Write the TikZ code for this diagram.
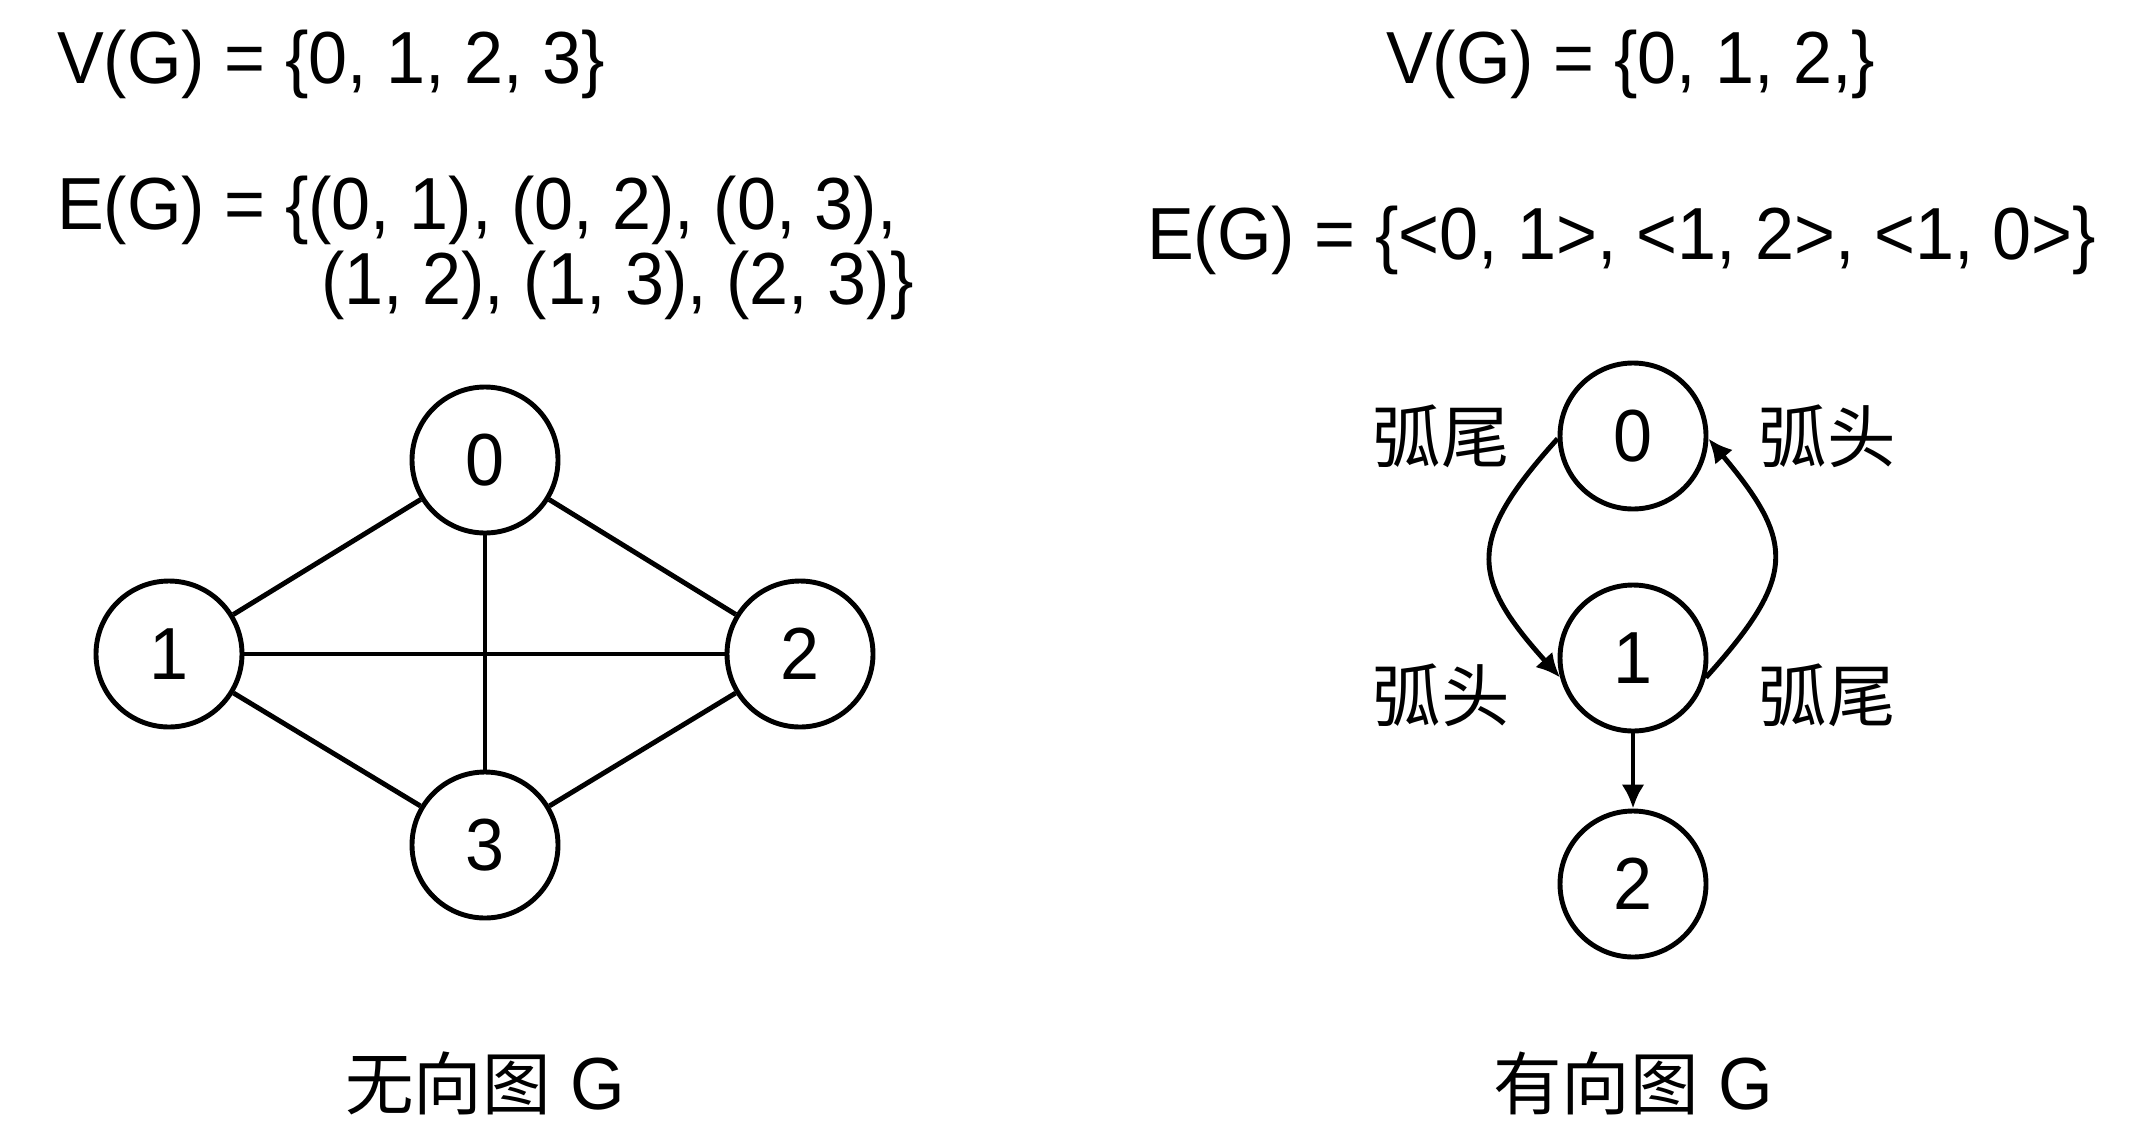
\documentclass[tikz,border=0pt]{standalone}
\usepackage{fontspec}
\setmainfont[FakeStretch=0.95]{Liberation Sans}
\newfontfamily\cjk{Noto Sans CJK SC}
\usepackage{tikz}
\usetikzlibrary{arrows.meta,calc}

\tikzset{vertex/.style={circle, draw, line width=1.4pt, minimum size=1.46cm, inner sep=0pt},
         arc label/.style={font=\cjk\fontsize{19.5}{23}\selectfont},
         head/.style={-{Latex[length=2.4mm,width=2.3mm]}}}

\begin{document}
\begin{tikzpicture}[line width=1.4pt, every node/.style={font=\fontsize{21}{25}\selectfont}]
            \useasboundingbox (0,0) rectangle (21.36,11.36);
            % undirected graph
            \node[anchor=base west] (VL) at (0.43,10.52) {V(G) = \{0, 1, 2, 3\}};
            \node[anchor=base west] (EL1) at (0.43,9.07) {E(G) = \{(0, 1), (0, 2), (0, 3),};
            \node[anchor=base west] (EL2) at (3.07,8.32) {(1, 2), (1, 3), (2, 3)\}};
            \node[vertex] (a0) at (4.85,6.76) {0};
            \node[vertex] (a1) at ($(a0)+(-3.16,-1.94)$) {1};
            \node[vertex] (a2) at ($(a0)+(3.15,-1.94)$) {2};
            \node[vertex] (a3) at ($(a0)+(0,-3.85)$) {3};
            \draw (a0) -- (a1);
            \draw (a0) -- (a2);
            \draw (a0) -- (a3);
            \draw (a1) -- (a2);
            \draw (a1) -- (a3);
            \draw (a2) -- (a3);
            \node (capL) at ($(a3)+(0,-2.38)$) {{\cjk\fontsize{19.5}{23}\selectfont 无向图} G};
            % directed graph
            \node[anchor=base west] (VR) at (13.72,10.52) {V(G) = \{0, 1, 2,\}};
            \node[anchor=base west] (ER) at (11.33,8.77) {E(G) = \{<0, 1>, <1, 2>, <1, 0>\}};
            \node[vertex] (b0) at (16.33,7.00) {0};
            \node[vertex] (b1) at ($(b0)+(0,-2.22)$) {1};
            \node[vertex] (b2) at ($(b1)+(0,-2.26)$) {2};
            \draw[head] (b0.182) to[out=228,in=132,looseness=1.45] (b1.195);
            \draw[head] (b1.-15) to[out=48,in=-50,looseness=1.45] (b0.-2);
            \draw[head] (b1) -- (b2);
            \node[arc label] (t0) at ($(b0)+(-1.92,0)$) {弧尾};
            \node[arc label] (h0) at ($(b0)+(1.94,0)$) {弧头};
            \node[arc label] (h1) at ($(b1)+(-1.92,-0.37)$) {弧头};
            \node[arc label] (t1) at ($(b1)+(1.94,-0.37)$) {弧尾};
            \node (capR) at ($(b2)+(0,-1.99)$) {{\cjk\fontsize{19.5}{23}\selectfont 有向图} G};
        \end{tikzpicture}
\end{document}
